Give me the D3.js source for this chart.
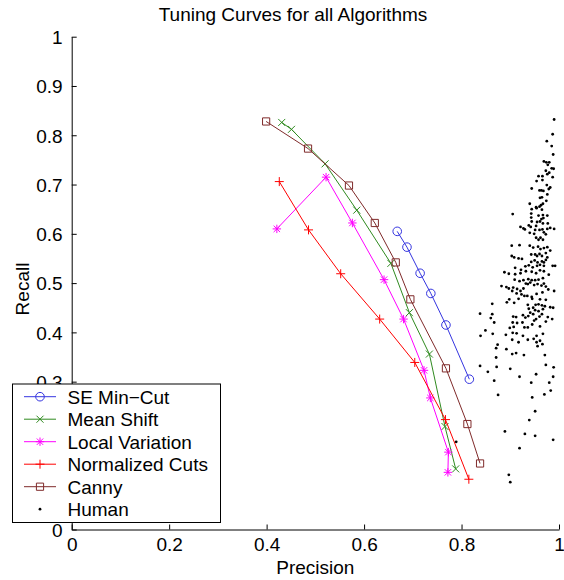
<!DOCTYPE html>
<html>
<head>
<meta charset="utf-8">
<script src="https://cdn.jsdelivr.net/npm/d3@7"></script>
<style>
  html, body { margin: 0; padding: 0; background: #fff; }
  svg { display: block; font-family: "Liberation Sans", Arial, sans-serif; }
</style>
</head>
<body>
<svg id="chart" width="564" height="580"></svg>
<script>
// ---------- data ----------
const precisionTicks = [0, 0.2, 0.4, 0.6, 0.8, 1];
const recallTicks = [0, 0.1, 0.2, 0.3, 0.4, 0.5, 0.6, 0.7, 0.8, 0.9, 1];

const seMinCutP = [0.668, 0.688, 0.715, 0.737, 0.768, 0.816];
const seMinCutR = [0.605, 0.573, 0.520, 0.479, 0.415, 0.305];

const meanShiftP = [0.431, 0.451, 0.520, 0.585, 0.655, 0.693, 0.734, 0.766, 0.788];
const meanShiftR = [0.826, 0.812, 0.742, 0.648, 0.540, 0.440, 0.356, 0.209, 0.123];

const localVarP = [0.421, 0.522, 0.576, 0.641, 0.681, 0.723, 0.736, 0.773, 0.772];
const localVarR = [0.610, 0.715, 0.622, 0.507, 0.427, 0.323, 0.267, 0.157, 0.116];

const ncutsP = [0.426, 0.486, 0.552, 0.632, 0.704, 0.767, 0.815];
const ncutsR = [0.706, 0.608, 0.519, 0.427, 0.339, 0.223, 0.102];

const cannyP = [0.399, 0.485, 0.569, 0.622, 0.665, 0.695, 0.768, 0.812, 0.838];
const cannyR = [0.828, 0.773, 0.698, 0.622, 0.542, 0.467, 0.327, 0.214, 0.134];

const humanPoints = [
 [0.990,0.832],[0.987,0.802],[0.975,0.788],[0.985,0.778],[0.988,0.761],[0.969,0.747],[0.974,0.745],[0.980,0.745],
 [0.977,0.740],[0.985,0.733],[0.989,0.732],[0.973,0.728],[0.980,0.724],[0.976,0.721],[0.958,0.717],[0.966,0.717],
 [0.987,0.715],[0.954,0.707],[0.966,0.709],[0.975,0.699],[0.982,0.694],[0.979,0.691],[0.944,0.692],[0.960,0.688],
 [0.964,0.688],[0.968,0.687],[0.976,0.680],[0.965,0.674],[0.961,0.673],[0.974,0.667],[0.940,0.661],[0.967,0.661],
 [0.963,0.658],[0.953,0.654],[0.960,0.655],[0.944,0.650],[0.954,0.652],[0.965,0.649],[0.905,0.640],[0.943,0.641],
 [0.958,0.637],[0.967,0.638],[0.976,0.637],[0.968,0.632],[0.964,0.630],[0.943,0.633],[0.944,0.625],[0.955,0.624],
 [0.961,0.625],[0.967,0.621],[0.977,0.621],[0.938,0.617],[0.942,0.614],[0.953,0.616],[0.921,0.614],[0.927,0.611],
 [0.930,0.609],[0.951,0.608],[0.960,0.608],[0.966,0.609],[0.976,0.610],[0.982,0.612],[0.990,0.610],[0.940,0.602],
 [0.949,0.600],[0.969,0.603],[0.973,0.599],[0.953,0.592],[0.958,0.588],[0.962,0.592],[0.967,0.588],[0.903,0.576],
 [0.919,0.577],[0.940,0.576],[0.947,0.572],[0.957,0.574],[0.962,0.569],[0.969,0.571],[0.976,0.573],[0.982,0.566],
 [0.903,0.555],[0.908,0.552],[0.917,0.550],[0.924,0.549],[0.943,0.558],[0.951,0.558],[0.955,0.555],[0.960,0.559],
 [0.965,0.555],[0.973,0.561],[0.976,0.552],[0.943,0.543],[0.950,0.546],[0.956,0.542],[0.965,0.544],[0.969,0.542],
 [0.973,0.547],[0.931,0.534],[0.938,0.536],[0.946,0.532],[0.955,0.535],[0.961,0.537],[0.969,0.535],[0.910,0.531],
 [0.922,0.527],[0.932,0.524],[0.888,0.522],[0.897,0.519],[0.910,0.518],[0.921,0.520],[0.944,0.523],[0.953,0.520],
 [0.961,0.526],[0.969,0.524],[0.979,0.517],[0.992,0.535],[0.987,0.535],[0.909,0.507],[0.919,0.504],[0.927,0.506],
 [0.937,0.508],[0.944,0.506],[0.951,0.506],[0.958,0.507],[0.967,0.510],[0.882,0.494],[0.892,0.492],[0.906,0.491],
 [0.914,0.488],[0.921,0.484],[0.927,0.489],[0.932,0.499],[0.936,0.498],[0.941,0.501],[0.949,0.496],[0.956,0.498],
 [0.964,0.495],[0.969,0.499],[0.973,0.493],[0.904,0.484],[0.913,0.479],[0.923,0.477],[0.929,0.474],[0.935,0.474],
 [0.944,0.472],[0.954,0.478],[0.966,0.481],[0.978,0.487],[0.990,0.484],[0.898,0.467],[0.917,0.468],[0.945,0.468],
 [0.961,0.467],[0.973,0.466],[0.897,0.489],[0.863,0.458],[0.893,0.461],[0.908,0.460],[0.936,0.456],[0.952,0.456],
 [0.958,0.457],[0.965,0.455],[0.971,0.453],[0.982,0.451],[0.988,0.450],[0.938,0.448],[0.947,0.450],[0.951,0.445],
 [0.958,0.443],[0.967,0.447],[0.838,0.438],[0.863,0.437],[0.860,0.429],[0.867,0.420],[0.906,0.432],[0.912,0.431],
 [0.926,0.435],[0.931,0.430],[0.937,0.433],[0.941,0.440],[0.947,0.437],[0.960,0.432],[0.965,0.437],[0.977,0.431],
 [0.986,0.427],[0.953,0.427],[0.949,0.424],[0.905,0.420],[0.914,0.419],[0.925,0.420],[0.973,0.422],[0.899,0.409],
 [0.907,0.411],[0.929,0.410],[0.936,0.410],[0.945,0.416],[0.961,0.412],[0.849,0.404],[0.839,0.393],[0.864,0.397],
 [0.891,0.395],[0.905,0.399],[0.913,0.398],[0.926,0.393],[0.954,0.393],[0.967,0.397],[0.904,0.385],[0.917,0.380],
 [0.936,0.385],[0.948,0.387],[0.954,0.380],[0.961,0.383],[0.966,0.376],[0.956,0.372],[0.874,0.375],[0.871,0.368],
 [0.892,0.366],[0.904,0.356],[0.912,0.358],[0.928,0.354],[0.971,0.354],[0.871,0.349],[0.838,0.332],[0.872,0.330],
 [0.854,0.320],[0.900,0.326],[0.973,0.334],[0.989,0.329],[0.988,0.310],[0.953,0.315],[0.919,0.310],[0.867,0.302],
 [0.943,0.298],[0.980,0.298],[0.875,0.273],[0.945,0.268],[0.970,0.274],[0.983,0.282],[0.951,0.240],[0.939,0.222],
 [0.889,0.199],[0.930,0.194],[0.951,0.190],[0.988,0.182],[0.919,0.165],[0.897,0.111],[0.900,0.096],[0.789,0.178]
];

const seriesNames = ["SE Min\u2212Cut", "Mean Shift", "Local Variation", "Normalized Cuts", "Canny", "Human"];
const seriesColors = ["#3535e0", "#2f8a1f", "#ff00ff", "#ff0000", "#7f2a2a", "#000000"];
const seriesMarkers = ["circle", "x", "asterisk", "plus", "square", "dot"];

// ---------- chart ----------
const svg = d3.select("#chart");
const FONT = 19;
const x = d3.scaleLinear().domain([0, 1]).range([71.7, 559]);
const y = d3.scaleLinear().domain([0, 1]).range([529.5, 36.7]);

function markerPath(type, cx, cy) {
  const p = d3.path();
  if (type === "x") {
    const s = 3.5;
    p.moveTo(cx - s, cy - s); p.lineTo(cx + s, cy + s);
    p.moveTo(cx - s, cy + s); p.lineTo(cx + s, cy - s);
  } else if (type === "plus") {
    const s = 4.5;
    p.moveTo(cx - s, cy); p.lineTo(cx + s, cy);
    p.moveTo(cx, cy - s); p.lineTo(cx, cy + s);
  } else if (type === "asterisk") {
    const s = 4.2, d = 3.2;
    p.moveTo(cx - s, cy); p.lineTo(cx + s, cy);
    p.moveTo(cx, cy - s); p.lineTo(cx, cy + s);
    p.moveTo(cx - d, cy - d); p.lineTo(cx + d, cy + d);
    p.moveTo(cx - d, cy + d); p.lineTo(cx + d, cy - d);
  } else if (type === "square") {
    const s = 3.6;
    p.rect(cx - s, cy - s, 2 * s, 2 * s);
  } else if (type === "circle") {
    p.moveTo(cx + 4.3, cy);
    p.arc(cx, cy, 4.3, 0, 2 * Math.PI);
  }
  return p.toString();
}

// axes
const yAxis = d3.axisLeft(y).tickValues(recallTicks).tickFormat(d3.format("~g"))
  .tickSizeInner(-5).tickSizeOuter(0).tickPadding(9);
const xAxis = d3.axisBottom(x).tickValues(precisionTicks).tickFormat(d3.format("~g"))
  .tickSizeInner(-5).tickSizeOuter(0).tickPadding(7);

const gy = svg.append("g").attr("transform", `translate(${x(0)},0)`).call(yAxis);
const gx = svg.append("g").attr("transform", `translate(0,${y(0)})`).call(xAxis);
[gx, gy].forEach(g => {
  g.selectAll("path.domain").attr("stroke", "#000").attr("stroke-width", 1);
  g.selectAll(".tick line").attr("stroke", "#000").attr("stroke-width", 1);
  g.selectAll(".tick text").attr("fill", "#000").style("font-size", FONT + "px")
    .style("font-family", '"Liberation Sans", Arial, sans-serif');
});
gx.selectAll(".tick text").attr("dy", "0.74em");
gy.selectAll(".tick text").attr("dy", "0.36em");

// series
const lineSeries = [
  [seMinCutP, seMinCutR],
  [meanShiftP, meanShiftR],
  [localVarP, localVarR],
  [ncutsP, ncutsR],
  [cannyP, cannyR]
];
const lineGen = d3.line().x(d => x(d[0])).y(d => y(d[1]));
const plot = svg.append("g");
lineSeries.forEach(([P, R], i) => {
  const pts = P.map((p, j) => [p, R[j]]);
  const g = plot.append("g");
  g.append("path").attr("d", lineGen(pts)).attr("fill", "none")
    .attr("stroke", seriesColors[i]).attr("stroke-width", 1);
  g.selectAll("path.m").data(pts).join("path").attr("class", "m")
    .attr("d", d => markerPath(seriesMarkers[i], x(d[0]), y(d[1])))
    .attr("fill", "none").attr("stroke", seriesColors[i]).attr("stroke-width", 1);
});
plot.append("g").selectAll("circle").data(humanPoints).join("circle")
  .attr("cx", d => x(d[0])).attr("cy", d => y(d[1])).attr("r", 1.4).attr("fill", "#000");

// title and labels
svg.append("text").attr("x", 293).attr("y", 21).attr("text-anchor", "middle")
  .style("font-size", FONT + "px").text("Tuning Curves for all Algorithms");
svg.append("text").attr("x", (x(0) + x(1)) / 2).attr("y", 574).attr("text-anchor", "middle")
  .style("font-size", FONT + "px").text("Precision");
svg.append("text").attr("transform", "translate(29,289) rotate(-90)").attr("text-anchor", "middle")
  .style("font-size", FONT + "px").text("Recall");

// legend
const lg = svg.append("g");
lg.append("rect").attr("x", 12.5).attr("y", 384).attr("width", 208).attr("height", 138.5)
  .attr("fill", "#fff").attr("stroke", "#000").attr("stroke-width", 1);
seriesNames.forEach((name, i) => {
  const cy = 396.7 + i * 22.5;
  if (seriesMarkers[i] === "dot") {
    lg.append("circle").attr("cx", 40).attr("cy", cy).attr("r", 1.4).attr("fill", "#000");
  } else {
    lg.append("line").attr("x1", 24).attr("x2", 56).attr("y1", cy).attr("y2", cy)
      .attr("stroke", seriesColors[i]).attr("stroke-width", 1);
    lg.append("path").attr("d", markerPath(seriesMarkers[i], 40, cy))
      .attr("fill", "none").attr("stroke", seriesColors[i]).attr("stroke-width", 1);
  }
  lg.append("text").attr("x", 67.5).attr("y", cy).attr("dy", "0.36em")
    .style("font-size", FONT + "px").text(name);
});
</script>
</body>
</html>
